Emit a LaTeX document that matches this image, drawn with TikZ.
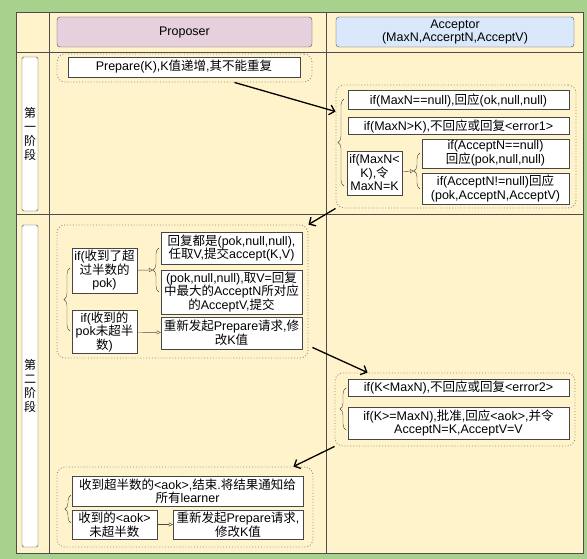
\documentclass[tikz,border=0pt]{standalone}
\usepackage{fontspec}
\setmainfont{Liberation Sans}
\newfontfamily\cjk{Noto Sans CJK SC}
\usetikzlibrary{arrows.meta,decorations.pathreplacing}
\definecolor{bggreen}{RGB}{169,209,142}
\definecolor{tablebg}{RGB}{255,243,204}
\definecolor{gridline}{RGB}{77,77,77}
\definecolor{boxline}{RGB}{70,70,70}
\definecolor{groupgray}{RGB}{140,140,140}
\definecolor{proppink}{RGB}{230,208,222}
\definecolor{accblue}{RGB}{218,232,252}
\XeTeXinterchartokenstate=1
\newXeTeXintercharclass\cjkclass
\newcount\cjkcode
\cjkcode="4E00
\loop\ifnum\cjkcode<"A000
  \XeTeXcharclass\cjkcode=\cjkclass
  \advance\cjkcode by 1
\repeat
\XeTeXinterchartoks 0 \cjkclass = {\cjk}
\XeTeXinterchartoks 4095 \cjkclass = {\cjk}
\XeTeXinterchartoks \cjkclass 0 = {\rmfamily}
\XeTeXinterchartoks 4095 0 = {\rmfamily}
\begin{document}
\begin{tikzpicture}[x=1pt, y=-1pt,
  box/.style={draw=boxline, fill=white, align=center, inner sep=1pt, font=\fontsize{12.5}{13.5}\selectfont},
  head/.style={draw=boxline, rounded corners=3pt, align=center, inner sep=1pt, font=\fontsize{12.5}{13.5}\selectfont},
  phase/.style={draw=boxline, fill=white, rounded corners=1.5pt, align=center, inner sep=0pt, minimum width=16pt, font=\fontsize{12}{14}\selectfont},
  grpbox/.style={draw=groupgray, dotted, line width=0.9pt, rounded corners=8pt},
  bracel/.style={draw=boxline, decorate, decoration={brace, amplitude=6pt}},
  tri/.style={draw=boxline, -{Triangle[open, length=4pt, width=4pt]}},
  arrow/.style={-{Straight Barb[length=5pt, width=10pt]}, line width=1.3pt}
]
\fill[bggreen] (0,0) rectangle (587,559);
\fill[tablebg] (16,12) rectangle (583,553);
\draw[gridline, line width=0.8pt] (16,12) rectangle (583,553) (49,12) -- (49,553) (326,12) -- (326,553) (16,52) -- (583,52) (16,214) -- (583,214);

\node[head, fill=proppink, minimum width=255pt, minimum height=30pt] (hdrProp) at (184.5,32) {Proposer};
\node[head, fill=accblue, minimum width=238pt, minimum height=30pt] (hdrAcc) at (455,32) {Acceptor\\(MaxN,AccerptN,AcceptV)};
\node[phase, minimum height=154pt] (phase1) at (30,134) {第\\一\\阶\\段};
\node[phase, minimum height=322pt] (phase2) at (30,386) {第\\二\\阶\\段};

\node[grpbox, minimum width=255pt, minimum height=28pt] (grpPrep) at (184.5,68) {};
\node[box, minimum width=232pt, minimum height=20pt] (prep) at (184,67) {Prepare(K),K值递增,其不能重复};

\node[grpbox, minimum width=240pt, minimum height=123pt] (grpAcc1) at (456,146.5) {};
\node[box, minimum width=221pt, minimum height=19pt] (b1) at (458.5,100) {if(MaxN==null),回应(ok,null,null)};
\node[box, minimum width=221pt, minimum height=17pt] (b2) at (458.5,126) {if(MaxN>K),不回应或回复<error1>};
\node[box, minimum width=55pt, minimum height=44pt] (b3) at (374.5,173) {if(MaxN<\\K),令\\MaxN=K};
\node[box, minimum width=147pt, minimum height=29pt] (b4) at (495.5,153.5) {if(AcceptN==null)\\回应(pok,null,null)};
\node[box, minimum width=147pt, minimum height=31pt] (b5) at (495.5,188.5) {if(AcceptN!=null)回应\\(pok,AcceptN,AcceptV)};
\draw[bracel] (344,186) -- (344,99);
\draw[bracel] (420,189) -- (420,153);
\coordinate (tipA1) at (414,171);
\draw[tri] (b3) -- (tipA1);

\node[grpbox, minimum width=251pt, minimum height=133pt] (grpPrep2) at (182.5,291.5) {};
\node[box, minimum width=65pt, minimum height=45pt] (p1) at (104.5,270.5) {if(收到了超\\过半数的\\pok)};
\node[box, minimum width=65pt, minimum height=43pt] (p2) at (104.5,332) {if(收到的\\pok未超半\\数)};
\node[box, minimum width=141pt, minimum height=32pt] (q1) at (231.5,248) {回复都是(pok,null,null),\\任取V,提交accept(K,V)};
\node[box, minimum width=141pt, minimum height=44pt] (q2) at (231.5,292) {(pok,null,null),取V=回复\\中最大的AcceptN所对应\\的AcceptV,提交};
\node[box, minimum width=141pt, minimum height=32pt] (q3) at (231.5,333) {重新发起Prepare请求,修\\改K值};
\draw[bracel] (70,331) -- (70,268);
\draw[bracel] (159,292) -- (159,248);
\coordinate (tipP2) at (153,270);
\draw[tri] (p1) -- (tipP2);
\draw[tri] (p2) -- (q3);

\node[grpbox, minimum width=240pt, minimum height=73pt] (grpAcc2) at (455,409.5) {};
\node[box, minimum width=221pt, minimum height=17pt] (r1) at (458.5,387.5) {if(K<MaxN),不回应或回复<error2>};
\node[box, minimum width=221pt, minimum height=32pt] (r2) at (458.5,423) {if(K>=MaxN),批准,回应<aok>,并令\\AcceptN=K,AcceptV=V};
\draw[bracel] (346,430) -- (346,388);

\node[grpbox, minimum width=256pt, minimum height=80pt] (grpFin) at (185,507) {};
\node[box, minimum width=231pt, minimum height=30pt] (s1) at (187.5,491) {收到超半数的<aok>,结束.将结果通知给\\所有learner};
\node[box, minimum width=85pt, minimum height=29pt] (s2) at (114.5,524.5) {收到的<aok>\\未超半数};
\node[box, minimum width=130pt, minimum height=29pt] (s3) at (238,524.5) {重新发起Prepare请求,\\修改K值};
\draw[bracel] (71,523) -- (71,495);
\draw[tri] (s2) -- (s3);

\draw[arrow] ([xshift=-78pt]grpPrep.south east) -- ([yshift=-27pt]grpAcc1.north west);
\draw[arrow] (grpAcc1.south west) -- (grpPrep2.north east);
\draw[arrow] ([xshift=4pt,yshift=11pt]grpPrep2.south east) -- ([xshift=33pt]grpAcc2.north west);
\draw[arrow] (grpAcc2.south west) -- ([xshift=-20pt]grpFin.north east);
\end{tikzpicture}
\end{document}
